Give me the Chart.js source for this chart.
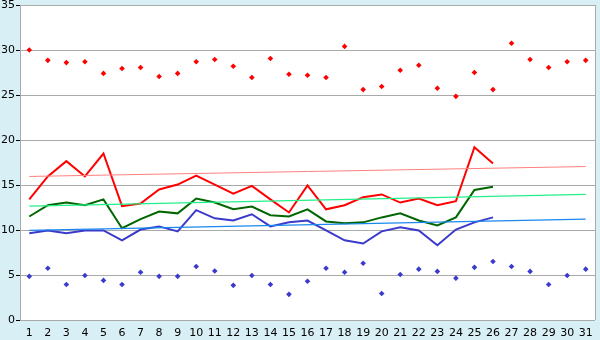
<!DOCTYPE html>
<html>
<head>
<meta charset="utf-8">
<script src="https://cdn.jsdelivr.net/npm/chart.js@4"></script>
<style>
  html, body { margin: 0; padding: 0; background: #d9eff6; }
  #wrap { width: 600px; height: 340px; }
</style>
</head>
<body>
<div id="wrap"><canvas id="chart" width="600" height="340"></canvas></div>
<script>
const days = ['1','2','3','4','5','6','7','8','9','10','11','12','13','14','15','16',
  '17','18','19','20','21','22','23','24','25','26','27','28','29','30','31']

// record highs / lows (points)
const recMax = [30.0, 28.85, 28.6, 28.7, 27.4, 27.95, 28.05, 27.05, 27.4, 28.7, 28.95, 28.2, 26.95, 29.05, 27.3, 27.2,
  26.95, 30.4, 25.6, 25.95, 27.75, 28.3, 25.75, 24.85, 27.5, 25.6, 30.75, 28.95, 28.05, 28.7, 28.85]
const recMin = [4.85, 5.75, 3.95, 4.95, 4.4, 3.95, 5.3, 4.85, 4.85, 5.95, 5.45, 3.85, 4.95, 3.95, 2.85, 4.3,
  5.75, 5.3, 6.3, 2.95, 5.05, 5.65, 5.4, 4.65, 5.85, 6.5, 5.95, 5.4, 3.95, 4.95, 5.65]

// this month (days 1-26)
const tMax = [13.4, 15.95, 17.65, 15.95, 18.5, 12.65, 12.95, 14.5, 15.05, 16.05, 15.05, 14.05, 14.9, 13.4, 11.95, 14.95,
  12.3, 12.75, 13.65, 13.95, 13.05, 13.5, 12.75, 13.2, 19.2, 17.4]
const tMean = [11.5, 12.75, 13.05, 12.75, 13.4, 10.2, 11.2, 12.05, 11.85, 13.5, 13.05, 12.3, 12.6, 11.65, 11.5, 12.3,
  10.95, 10.75, 10.85, 11.4, 11.85, 11.05, 10.5, 11.4, 14.45, 14.8]
const tMin = [9.65, 9.95, 9.65, 9.95, 9.95, 8.85, 10.05, 10.4, 9.85, 12.2, 11.3, 11.05, 11.75, 10.4, 10.85, 11.05,
  9.95, 8.85, 8.5, 9.85, 10.3, 9.95, 8.3, 10.05, 10.85, 11.4]

// normals, first and last day
const normMax = [15.95, 17.05]
const normMean = [12.65, 13.95]
const normMin = [9.95, 11.2]

const yTicks = [0, 5, 10, 15, 20, 25, 30, 35]

const font = { family: "'DejaVu Sans', sans-serif", size: 11 }

function ends(v) {
  return [{ x: days[0], y: v[0] }, { x: days[days.length - 1], y: v[1] }]
}

function line(data, color, width) {
  return { type: 'line', data: data, borderColor: color, backgroundColor: color,
    borderWidth: width, pointRadius: 0, tension: 0, fill: false }
}

function dots(data, color) {
  return { type: 'line', data: data, showLine: false, pointStyle: 'rectRot',
    pointRadius: 2.8, borderWidth: 0, pointBackgroundColor: color, pointBorderColor: color }
}

const bgPlugin = {
  id: 'plotbg',
  beforeDraw(c) {
    const a = c.chartArea, ctx = c.ctx
    ctx.save()
    ctx.fillStyle = '#d9eff6'
    ctx.fillRect(0, 0, c.width, c.height)
    ctx.fillStyle = '#ffffff'
    ctx.fillRect(a.left, a.top, a.right - a.left, a.bottom - a.top)
    ctx.strokeStyle = '#aaaaaa'
    ctx.lineWidth = 1
    ctx.beginPath()
    ctx.moveTo(a.right + 0.5, a.top)
    ctx.lineTo(a.right + 0.5, a.bottom)
    ctx.stroke()
    ctx.restore()
  }
}

new Chart(document.getElementById('chart'), {
  data: {
    labels: days,
    datasets: [
      line(ends(normMax), '#ff8080', 1),
      line(ends(normMean), '#22f088', 1.2),
      line(ends(normMin), '#1a88ee', 1.2),
      line(tMax, '#ff0000', 2),
      line(tMean, '#006600', 2),
      line(tMin, '#3a3acc', 2),
      dots(recMax, '#ff0000'),
      dots(recMin, '#3a3acc')
    ]
  },
  options: {
    responsive: false,
    animation: false,
    layout: { padding: { top: 5, right: 5, left: 0, bottom: 0 } },
    plugins: { legend: { display: false }, tooltip: { enabled: false } },
    scales: {
      x: {
        type: 'category',
        offset: true,
        grid: { display: false, drawTicks: true, tickLength: 4, color: '#000' },
        border: { display: false },
        ticks: { color: '#000', font: font, padding: 3, maxRotation: 0, autoSkip: false },
        afterFit: s => { s.height = 20; s.paddingLeft = 0; s.paddingRight = 0 }
      },
      y: {
        min: 0,
        max: 35,
        afterBuildTicks: s => { s.ticks = yTicks.map(v => ({ value: v })) },
        grid: { color: '#aaaaaa', tickLength: 4, tickColor: '#000' },
        border: { color: '#aaaaaa' },
        ticks: { color: '#000', font: font, padding: 1 },
        afterFit: s => { s.width = 20; s.paddingTop = 0; s.paddingBottom = 0 }
      }
    }
  },
  plugins: [bgPlugin]
})
</script>
</body>
</html>
